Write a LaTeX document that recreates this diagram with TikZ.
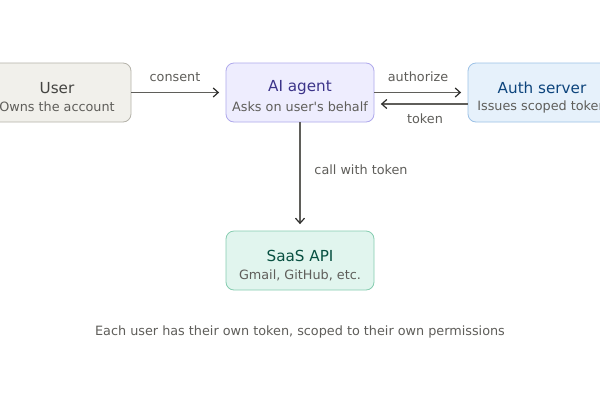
\documentclass[tikz,border=0pt]{standalone}
\usepackage{fontspec}
\setmainfont{DejaVu Sans}
\usetikzlibrary{arrows.meta}
\definecolor{ubg}{HTML}{F1F0EB}\definecolor{ubd}{HTML}{B4B2A9}\definecolor{utx}{HTML}{444441}
\definecolor{abg}{HTML}{EEEDFE}\definecolor{abd}{HTML}{AFA9EC}\definecolor{atx}{HTML}{3C3489}
\definecolor{sbg}{HTML}{E6F1FB}\definecolor{sbd}{HTML}{9CC1E6}\definecolor{stx}{HTML}{0C447C}
\definecolor{gbg}{HTML}{E1F5EE}\definecolor{gbd}{HTML}{86CDB0}\definecolor{gtx}{HTML}{085041}
\definecolor{subc}{HTML}{5F5E5A}\definecolor{linec}{HTML}{5F5E5A}\definecolor{labc}{HTML}{5F5E5A}\definecolor{tipc}{HTML}{2C2C2A}
\tikzset{
  boxn/.style={draw, rounded corners=8pt, line width=0.8pt, minimum width=148pt, minimum height=59pt, inner sep=0pt},
  ttl/.style={font=\fontsize{15.2}{17}\selectfont, inner sep=0pt},
  sub/.style={font=\fontsize{12.8}{15}\selectfont, text=subc, inner sep=0pt},
  lab/.style={font=\fontsize{12.8}{15}\selectfont, text=labc, inner sep=0pt},
  conn/.style={draw=linec, line width=1.2pt, -{Straight Barb[length=5pt,width=9pt,line width=1.2pt,color=tipc]}, shorten >=6.5pt}
}
\begin{document}
\begin{tikzpicture}[x=1pt,y=-1pt]
\useasboundingbox (0,0) rectangle (600,400);
\clip (0,0) rectangle (600,400);
\fill[white] (0,0) rectangle (600,400);
% boxes
\node[boxn, fill=ubg, draw=ubd] (user) at (57,92.5) {};
\node[boxn, fill=abg, draw=abd] (agent) at (300,92.5) {};
\node[boxn, fill=sbg, draw=sbd] (auth) at (542,92.5) {};
\node[boxn, fill=gbg, draw=gbd] (api) at (300,260.5) {};
% texts
\node[ttl, text=utx] (userT) at (57,88) {User};
\node[sub] (userS) at (57,107) {Owns the account};
\node[ttl, text=atx] (agentT) at (300,88) {AI agent};
\node[sub] (agentS) at (300,107) {Asks on user\textquotesingle s behalf};
\node[ttl, text=stx] (authT) at (542,88) {Auth server};
\node[sub] (authS) at (542,107) {Issues scoped token};
\node[ttl, text=gtx] (apiT) at (300,256) {SaaS API};
\node[sub] (apiS) at (300,275) {Gmail, GitHub, etc.};
% connectors
\draw[conn] (user.east) -- (agent.west);
\draw[conn] (agent.east) -- (auth.west);
\draw[conn] ([yshift=-11.5pt]auth.west) -- ([yshift=-11.5pt]agent.east);
\draw[conn] (agent.south) -- (api.north);
% labels
\node[lab] (lconsent) at (175,77) {consent};
\node[lab] (lauth) at (418,77) {authorize};
\node[lab] (ltoken) at (425,119) {token};
\node[lab] (lcall) at (361,170) {call with token};
\node[lab] (cap) at (300,331.5) {Each user has their own token, scoped to their own permissions};
\end{tikzpicture}
\end{document}
